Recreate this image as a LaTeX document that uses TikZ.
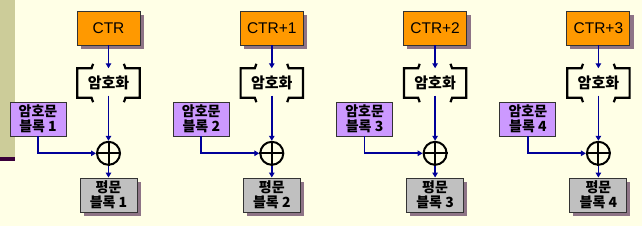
\documentclass[tikz,border=0pt]{standalone}
\usepackage{fontspec}
\setmainfont{Liberation Sans}
\newfontfamily\kr{Noto Sans CJK KR}
\usetikzlibrary{arrows.meta,calc}
\definecolor{bg}{HTML}{FFFFE6}
\definecolor{strip}{HTML}{CCCC99}
\definecolor{stripline}{HTML}{3A003A}
\definecolor{orng}{HTML}{FF9900}
\definecolor{purp}{HTML}{CC99FF}
\definecolor{grey}{HTML}{C0C0C0}
\definecolor{shad}{HTML}{8E7486}
\definecolor{navy}{HTML}{000099}
\tikzset{
  ctrbox/.style={draw=black!80,line width=0.9pt,fill=orng,minimum width=63pt,minimum height=34pt,inner sep=0pt,font=\fontsize{15.5}{17}\selectfont},
  cbox/.style={draw=black!80,line width=0.9pt,fill=purp,minimum width=56pt,minimum height=34pt,inner sep=0pt,align=center,font=\kr\bfseries\fontsize{14}{14.5}\selectfont},
  pbox/.style={draw=black!80,line width=0.9pt,fill=grey,minimum width=57pt,minimum height=34pt,inner sep=0pt,align=center,font=\kr\bfseries\fontsize{14}{15}\selectfont},
  encnode/.style={minimum width=62pt,minimum height=29pt,inner sep=0pt,font=\kr\bfseries\fontsize{15}{17}\selectfont},
  xor/.style={circle,draw=black,line width=2pt,minimum size=23pt,inner sep=0pt},
  arr/.style={draw=navy,line width=1.7pt,-{Triangle[length=5pt,width=5.5pt]}},
  bracket/.style={draw=black,line width=2.2pt,line join=miter},
  shadowfill/.style={fill=shad},
}
\begin{document}
\begin{tikzpicture}[x=1pt,y=-1pt]
\useasboundingbox (0,0) rectangle (642,226);
\fill[bg] (0,0) rectangle (642,226);
\fill[strip] (0,0) rectangle (15,157);
\fill[stripline] (0,157) rectangle (15,161);
\foreach \i/\lab in {0/CTR,1/CTR+1,2/CTR+2,3/CTR+3}{
  \pgfmathtruncatemacro\n{\i+1}
  \begin{scope}[xshift=\i*163.3pt]
    \fill[shadowfill] (80.5,14.5) rectangle (144,48.5);
    \fill[shadowfill] (83.5,181.5) rectangle (140.5,215.5);
    \node[ctrbox] (ctr\i) at (108.5,28) {\lab};
    \node[encnode] (enc\i) at (108.5,83) {암호화};
    \node[xor] (x\i) at (108.5,153.3) {};
    \node[cbox] (c\i) at (38,119) {암호문\\블록 \n};
    \node[pbox] (p\i) at (108.5,195) {평문\\블록 \n};
    \draw[line width=2pt] (x\i.north) -- (x\i.south) (x\i.west) -- (x\i.east);
    \draw[bracket] ($(enc\i.north west)+(15.8,-4.5)$) -- ++(-1.6,4.5) -- (enc\i.north west) -- (enc\i.south west) -- ++(14.2,0) -- ++(1.6,4.5);
    \draw[bracket] ($(enc\i.north east)+(-15.8,-4.5)$) -- ++(1.6,4.5) -- (enc\i.north east) -- (enc\i.south east) -- ++(-14.2,0) -- ++(-1.6,4.5);
    \draw[arr] (ctr\i) -- (enc\i.north);
    \draw[arr] ([yshift=2pt]enc\i.south) -- (x\i.north);
    \draw[arr] (c\i.south) |- (x\i.west);
    \draw[arr] (x\i.south) -- (p\i.north);
  \end{scope}
}
\end{tikzpicture}
\end{document}
